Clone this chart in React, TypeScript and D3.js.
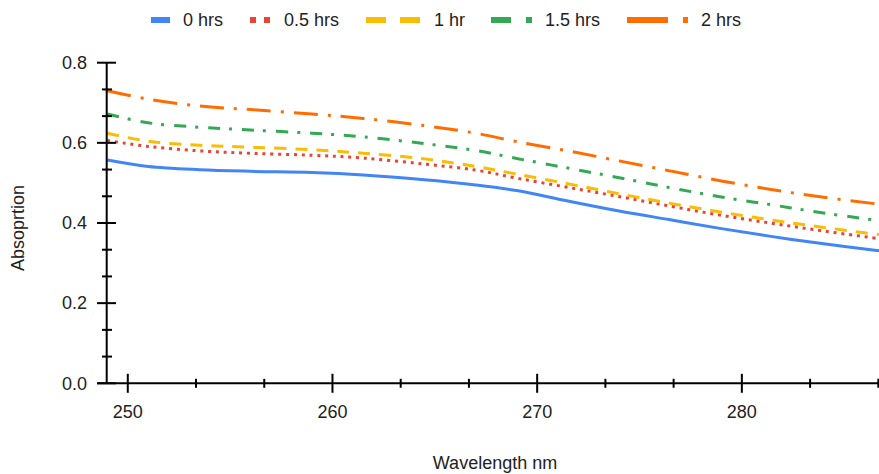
import React from "react";
import * as d3 from "d3";

const wavelengths = [249, 251, 253.5, 256, 259, 261.5, 264.5, 267, 269, 271.5, 274, 276.5, 279, 281.5, 284, 286.7];
const hrs0 = [0.557, 0.541, 0.533, 0.529, 0.526, 0.520, 0.508, 0.495, 0.481, 0.455, 0.430, 0.408, 0.386, 0.366, 0.348, 0.331];
const hrs05 = [0.606, 0.591, 0.580, 0.574, 0.569, 0.562, 0.547, 0.532, 0.512, 0.489, 0.466, 0.442, 0.419, 0.399, 0.380, 0.361];
const hrs1 = [0.624, 0.604, 0.594, 0.589, 0.583, 0.574, 0.560, 0.541, 0.522, 0.498, 0.473, 0.449, 0.427, 0.407, 0.389, 0.371];
const hrs15 = [0.672, 0.650, 0.639, 0.632, 0.624, 0.615, 0.598, 0.581, 0.561, 0.537, 0.513, 0.488, 0.465, 0.445, 0.425, 0.406];
const hrs2 = [0.730, 0.709, 0.692, 0.683, 0.672, 0.661, 0.643, 0.624, 0.603, 0.580, 0.555, 0.530, 0.505, 0.483, 0.464, 0.447];

const seriesNames = ["0 hrs", "0.5 hrs", "1 hr", "1.5 hrs", "2 hrs"];
const seriesValues = [hrs0, hrs05, hrs1, hrs15, hrs2];
const xTicks = [250, 260, 270, 280];
const yTicks = [0, 0.2, 0.4, 0.6, 0.8];

const colors = ["#4285F4", "#EA4335", "#FBBC04", "#34A853", "#FF6D01"];
const dashes = ["", "3,4.8", "12,9", "12,9,3,10", "24,10,3,10"];
const legendX = [151, 250, 366, 491, 627];
const legendTextX = [183, 284, 434, 545, 701];
const legendSampleW = [19, 20, 54, 41, 61];
const legendDash = ["", "6,8", "20,14", "20,15,6,20", "41,15,5,20"];

const FONT = "Arial, 'Liberation Sans', sans-serif";
const FS = 18;

export default function App() {
  const W = 879, H = 474;
  const x = d3.scaleLinear().domain([248.97, 286.7]).range([106.7, 879]);
  const y = d3.scaleLinear().domain([0, 0.8]).range([383.3, 62.7]);
  const line = d3.line<number>()
    .x((_, i) => x(wavelengths[i]))
    .y((d) => y(d))
    .curve(d3.curveCatmullRom.alpha(0.5));

  const xMinor: number[] = [];
  for (let k = 1; k <= 12; k++) {
    const v = 250 + (k * 10) / 3;
    if (k % 3 !== 0 && v <= 286.7) xMinor.push(v);
  }
  const yMinor: number[] = [];
  for (let k = 1; k < 12; k++) {
    if (k % 3 !== 0) yMinor.push((k * 0.2) / 3);
  }

  return (
    <svg width={W} height={H} style={{ position: "absolute", left: 0, top: 0, background: "#fff" }} fontFamily={FONT}>
      <rect x={0} y={0} width={W} height={H} fill="#fff" />
      {/* legend */}
      {seriesNames.map((n, i) => (
        <g key={n}>
          <line x1={legendX[i]} x2={legendX[i] + legendSampleW[i]} y1={20} y2={20}
            stroke={colors[i]} strokeWidth={6} strokeDasharray={legendDash[i] || undefined} />
          <text x={legendTextX[i]} y={20} dy="0.35em" fontSize={FS} fill="#222">{n}</text>
        </g>
      ))}
      {/* series */}
      {seriesValues.map((vals, i) => (
        <path key={i} d={line(vals) || ""} fill="none" stroke={colors[i]} strokeWidth={3}
          strokeDasharray={dashes[i] || undefined} />
      ))}
      {/* y axis */}
      <line x1={106.7} x2={106.7} y1={y(0.8)} y2={y(0)} stroke="#000" strokeWidth={2} />
      {yTicks.map((t) => (
        <g key={t}>
          <line x1={97} x2={116} y1={y(t)} y2={y(t)} stroke="#000" strokeWidth={2} />
          <text x={87} y={y(t)} dy="0.35em" textAnchor="end" fontSize={FS} fill="#222">{t.toFixed(1)}</text>
        </g>
      ))}
      {yMinor.map((t) => (
        <line key={t} x1={102} x2={112} y1={y(t)} y2={y(t)} stroke="#000" strokeWidth={2} />
      ))}
      {/* x axis */}
      <line x1={97} x2={879} y1={y(0)} y2={y(0)} stroke="#000" strokeWidth={2} />
      {xTicks.map((t) => (
        <g key={t}>
          <line x1={x(t)} x2={x(t)} y1={y(0) - 9.5} y2={y(0) + 9.5} stroke="#000" strokeWidth={2} />
          <text x={x(t)} y={412} dy="0.35em" textAnchor="middle" fontSize={FS} fill="#222">{t}</text>
        </g>
      ))}
      {xMinor.map((t) => (
        <line key={t} x1={x(t)} x2={x(t)} y1={y(0) - 4.5} y2={y(0) + 4.5} stroke="#000" strokeWidth={2} />
      ))}
      {/* titles */}
      <text x={495} y={463} dy="0.35em" textAnchor="middle" fontSize={FS} fill="#222">Wavelength nm</text>
      <text transform="translate(18,228) rotate(-90)" dy="0.35em" textAnchor="middle" fontSize={FS} fill="#222">Absoprtion</text>
    </svg>
  );
}
